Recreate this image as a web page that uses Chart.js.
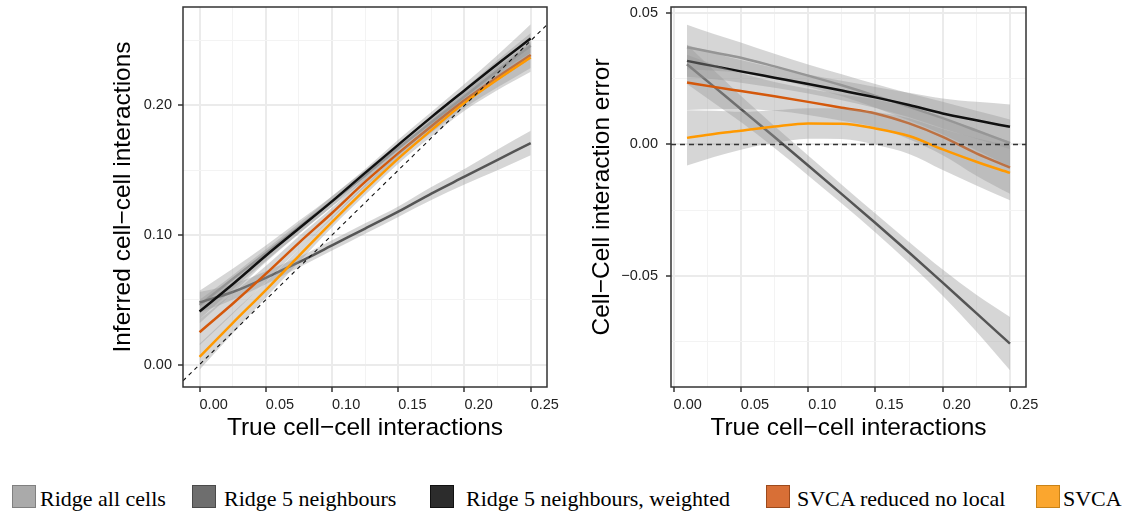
<!DOCTYPE html>
<html>
<head>
<meta charset="utf-8">
<script src="https://cdn.jsdelivr.net/npm/chart.js@4.4.1/dist/chart.umd.min.js"></script>
<style>
  html, body { margin: 0; padding: 0; background: #fff; }
  #wrap { position: relative; width: 1128px; height: 513px; overflow: hidden; }
  #left { position: absolute; left: 0; top: 0; }
  #right { position: absolute; left: 560px; top: 0; }
  .box { position: absolute; top: 485px; width: 22px; height: 21px; border: 1px solid; }
  .lbl { position: absolute; top: 488px; font: 22px/22px "Liberation Serif", "Times New Roman", serif; color: #000; white-space: nowrap; }
</style>
</head>
<body>
<div id="wrap">
  <canvas id="left" width="560" height="450"></canvas>
  <canvas id="right" width="568" height="450"></canvas>
  <div id="legend"></div>
</div>
<script>
/* ===============================
   data
================================ */
const seriesNames = ['Ridge all cells', 'Ridge 5 neighbours', 'Ridge 5 neighbours, weighted', 'SVCA reduced no local', 'SVCA'];

// left panel: inferred vs true
const xLeft = [0, 0.025, 0.05, 0.075, 0.10, 0.125, 0.15, 0.175, 0.20, 0.225, 0.25];
const ridgeAllLeft  = [0.046, 0.066, 0.086, 0.106, 0.126, 0.146, 0.167, 0.187, 0.207, 0.227, 0.246];
const ridge5Left    = [0.048, 0.056, 0.067, 0.079, 0.092, 0.105, 0.118, 0.132, 0.145, 0.158, 0.171];
const weightedLeft  = [0.041, 0.062, 0.084, 0.105, 0.126, 0.148, 0.1696, 0.191, 0.2116, 0.232, 0.2516];
const svcaRedLeft   = [0.025, 0.047, 0.070, 0.094, 0.117, 0.141, 0.163, 0.184, 0.204, 0.222, 0.239];
const svcaLeft      = [0.006, 0.032, 0.0575, 0.084, 0.110, 0.135, 0.159, 0.181, 0.202, 0.220, 0.237];
// half widths of the confidence bands
const ridgeAllLeftSe = [0.011, 0.008, 0.006, 0.005, 0.004, 0.004, 0.004, 0.005, 0.006, 0.008, 0.010];
const ridge5LeftSe   = [0.008, 0.006, 0.005, 0.004, 0.004, 0.004, 0.004, 0.005, 0.006, 0.008, 0.0095];
const weightedLeftSe = [0.009, 0.007, 0.005, 0.004, 0.004, 0.003, 0.004, 0.004, 0.005, 0.007, 0.011];
const svcaRedLeftSe  = [0.010, 0.008, 0.006, 0.005, 0.004, 0.004, 0.004, 0.005, 0.006, 0.008, 0.010];
const svcaLeftSe     = [0.010, 0.008, 0.006, 0.005, 0.004, 0.004, 0.004, 0.005, 0.006, 0.008, 0.011];

// right panel: error vs true
const xRight = [0.01, 0.03, 0.05, 0.075, 0.10, 0.125, 0.15, 0.175, 0.20, 0.225, 0.25];
const ridgeAllRight = [0.037, 0.035, 0.033, 0.0297, 0.0262, 0.0225, 0.0185, 0.0143, 0.0100, 0.0053, 0.0005];
const ridge5Right   = [0.0305, 0.0220, 0.0135, 0.0028, -0.0080, -0.0189, -0.0299, -0.0411, -0.0526, -0.0642, -0.0758];
const weightedRight = [0.0318, 0.0298, 0.0278, 0.0254, 0.0230, 0.0205, 0.0179, 0.0150, 0.0118, 0.0092, 0.0067];
const svcaRedRight  = [0.0236, 0.0219, 0.0203, 0.0183, 0.0162, 0.0140, 0.0118, 0.0080, 0.0029, -0.0034, -0.0088];
const svcaRight     = [0.0025, 0.0040, 0.0052, 0.0068, 0.0080, 0.0079, 0.0061, 0.0032, -0.0019, -0.0066, -0.0108];
const ridgeAllRightSe = [0.0085, 0.0070, 0.0058, 0.0048, 0.0042, 0.0042, 0.0045, 0.0052, 0.0062, 0.0075, 0.0090];
const ridge5RightSe   = [0.0075, 0.0062, 0.0050, 0.0042, 0.0038, 0.0036, 0.0036, 0.0040, 0.0050, 0.0070, 0.0101];
const weightedRightSe = [0.0060, 0.0050, 0.0043, 0.0038, 0.0036, 0.0037, 0.0040, 0.0047, 0.0057, 0.0070, 0.0085];
const svcaRedRightSe  = [0.0105, 0.0085, 0.0068, 0.0055, 0.0050, 0.0050, 0.0053, 0.0060, 0.0070, 0.0085, 0.0100];
const svcaRightSe     = [0.0105, 0.0088, 0.0072, 0.0062, 0.0058, 0.0058, 0.0062, 0.0068, 0.0078, 0.0090, 0.0104];

// ticks
const xTicks      = [0, 0.025, 0.05, 0.075, 0.10, 0.125, 0.15, 0.175, 0.20, 0.225, 0.25];
const xTickLabels = ['0.00', '', '0.05', '', '0.10', '', '0.15', '', '0.20', '', '0.25'];
const leftYTicks      = [0, 0.05, 0.10, 0.15, 0.20, 0.25];
const leftYTickLabels = ['0.00', '', '0.10', '', '0.20', ''];
const rightYTicks      = [-0.075, -0.05, -0.025, 0, 0.025, 0.05];
const rightYTickLabels = ['', '\u22120.05', '', '0.00', '', '0.05'];

/* ===============================
   styles
================================ */
const lineColors = ['#959595', '#555555', '#111111', '#d4580b', '#ff9900'];
const boxFill    = ['#aaaaaa', '#6e6e6e', '#2c2c2c', '#d86f36', '#fba62e'];
const boxEdge    = ['#808080', '#4a4a4a', '#111111', '#9c4a1c', '#c98318'];
const legendBoxX = [12, 192, 430, 766, 1036];
const legendTxtX = [40, 224, 466, 797, 1063];
const ribbonFill = 'rgba(153,153,153,0.4)';
const FONT = 'Liberation Sans';

function pts(xs, ys, off, sign) {
  return xs.map((x, i) => ({ x: x, y: ys[i] + (off ? sign * off[i] : 0) }));
}

function buildDatasets(xs, series, ses, refLine, refDash, refWidth, refColor) {
  const ds = [];
  series.forEach((ys, k) => {
    ds.push({ data: pts(xs, ys, ses[k], -1), borderWidth: 0, borderColor: 'transparent', pointRadius: 0, fill: false, cubicInterpolationMode: 'monotone' });
    ds.push({ data: pts(xs, ys, ses[k], 1), borderWidth: 0, borderColor: 'transparent', backgroundColor: ribbonFill, pointRadius: 0, fill: '-1', cubicInterpolationMode: 'monotone' });
    ds.push({ data: pts(xs, ys), borderColor: lineColors[k], borderWidth: 2.5, pointRadius: 0, fill: false, cubicInterpolationMode: 'monotone' });
  });
  ds.push({ data: refLine, borderColor: refColor, borderWidth: refWidth, borderDash: refDash, pointRadius: 0, fill: false });
  const n = ds.length;
  ds.forEach((d, i) => { d.order = n - i; });
  return ds;
}

const panelBorder = {
  id: 'panelBorder',
  afterDraw(chart) {
    const a = chart.chartArea, c = chart.ctx;
    c.save();
    c.strokeStyle = '#333';
    c.lineWidth = 1.5;
    c.strokeRect(a.left, a.top, a.right - a.left, a.bottom - a.top);
    c.restore();
  }
};

function gridOpts(labels) {
  return {
    color: ctx => labels[ctx.index] ? '#ebebeb' : '#f3f3f3',
    lineWidth: ctx => labels[ctx.index] ? 2 : 1,
    tickColor: ctx => labels[ctx.index] ? '#333' : 'rgba(0,0,0,0)',
    tickLength: 5,
    tickWidth: 1.5
  };
}

function xAxis(min, max, titlePadBottom) {
  return {
    type: 'linear', min: min, max: max,
    border: { display: false },
    afterBuildTicks: s => { s.ticks = xTicks.map(v => ({ value: v })); },
    afterFit: s => { s.height = 63; s.paddingLeft = 0; s.paddingRight = 0; },
    grid: gridOpts(xTickLabels),
    ticks: { autoSkip: false, maxRotation: 0, align: 'start', padding: 4.5, color: '#222', font: { family: FONT, size: 14.5 }, callback: (v, i) => xTickLabels[i] },
    title: { display: true, text: 'True cell\u2212cell interactions', color: '#000', font: { family: FONT, size: 24.5, lineHeight: 1 }, padding: { top: 0, bottom: titlePadBottom } }
  };
}

function yAxis(min, max, ticksArr, labels, width, labelPad, title, titlePadTop) {
  return {
    type: 'linear', min: min, max: max,
    border: { display: false },
    afterBuildTicks: s => { s.ticks = ticksArr.map(v => ({ value: v })); },
    afterFit: s => { s.width = width; s.paddingTop = 0; s.paddingBottom = 0; },
    grid: gridOpts(labels),
    ticks: { autoSkip: false, padding: labelPad, color: '#222', font: { family: FONT, size: 14.5 }, callback: (v, i) => labels[i] },
    title: { display: true, text: title, color: '#000', font: { family: FONT, size: 24.5, lineHeight: 1 }, padding: { top: titlePadTop, bottom: 0 } }
  };
}

/* ===============================
   1. left panel
================================ */
const lxMin = -0.0125, lxMax = 0.2623, lyMin = -0.0173, lyMax = 0.276;
new Chart(document.getElementById('left').getContext('2d'), {
  type: 'line',
  data: {
    datasets: buildDatasets(
      xLeft,
      [ridgeAllLeft, ridge5Left, weightedLeft, svcaRedLeft, svcaLeft],
      [ridgeAllLeftSe, ridge5LeftSe, weightedLeftSe, svcaRedLeftSe, svcaLeftSe],
      [{ x: lxMin, y: lxMin }, { x: lxMax, y: lxMax }],
      [4, 4], 1.1, '#111'
    )
  },
  options: {
    responsive: false,
    animation: false,
    layout: { padding: { left: 0, top: 7, right: 13, bottom: 0 } },
    plugins: { legend: { display: false }, tooltip: { enabled: false } },
    scales: {
      x: xAxis(lxMin, lxMax, 9.5),
      y: yAxis(lyMin, lyMax, leftYTicks, leftYTickLabels, 183, 6, 'Inferred cell\u2212cell interactions', 111)
    }
  },
  plugins: [panelBorder]
});

/* ===============================
   2. right panel
================================ */
const rxMin = -0.0019, rxMax = 0.2619, ryMin = -0.0923, ryMax = 0.0523;
new Chart(document.getElementById('right').getContext('2d'), {
  type: 'line',
  data: {
    datasets: buildDatasets(
      xRight,
      [ridgeAllRight, ridge5Right, weightedRight, svcaRedRight, svcaRight],
      [ridgeAllRightSe, ridge5RightSe, weightedRightSe, svcaRedRightSe, svcaRightSe],
      [{ x: rxMin, y: 0 }, { x: rxMax, y: 0 }],
      [5, 4], 1.5, '#333'
    )
  },
  options: {
    responsive: false,
    animation: false,
    layout: { padding: { left: 0, top: 7, right: 102, bottom: 0 } },
    plugins: { legend: { display: false }, tooltip: { enabled: false } },
    scales: {
      x: xAxis(rxMin, rxMax, 9.5),
      y: yAxis(ryMin, ryMax, rightYTicks, rightYTickLabels, 111, 8, 'Cell\u2212Cell interaction error', 29.5)
    }
  },
  plugins: [panelBorder]
});

/* ===============================
   3. legend
================================ */
const legend = document.getElementById('legend');
seriesNames.forEach((name, i) => {
  const b = document.createElement('div');
  b.className = 'box';
  b.style.left = legendBoxX[i] + 'px';
  b.style.background = boxFill[i];
  b.style.borderColor = boxEdge[i];
  legend.appendChild(b);
  const t = document.createElement('div');
  t.className = 'lbl';
  t.style.left = legendTxtX[i] + 'px';
  t.textContent = name;
  legend.appendChild(t);
});
</script>
</body>
</html>
